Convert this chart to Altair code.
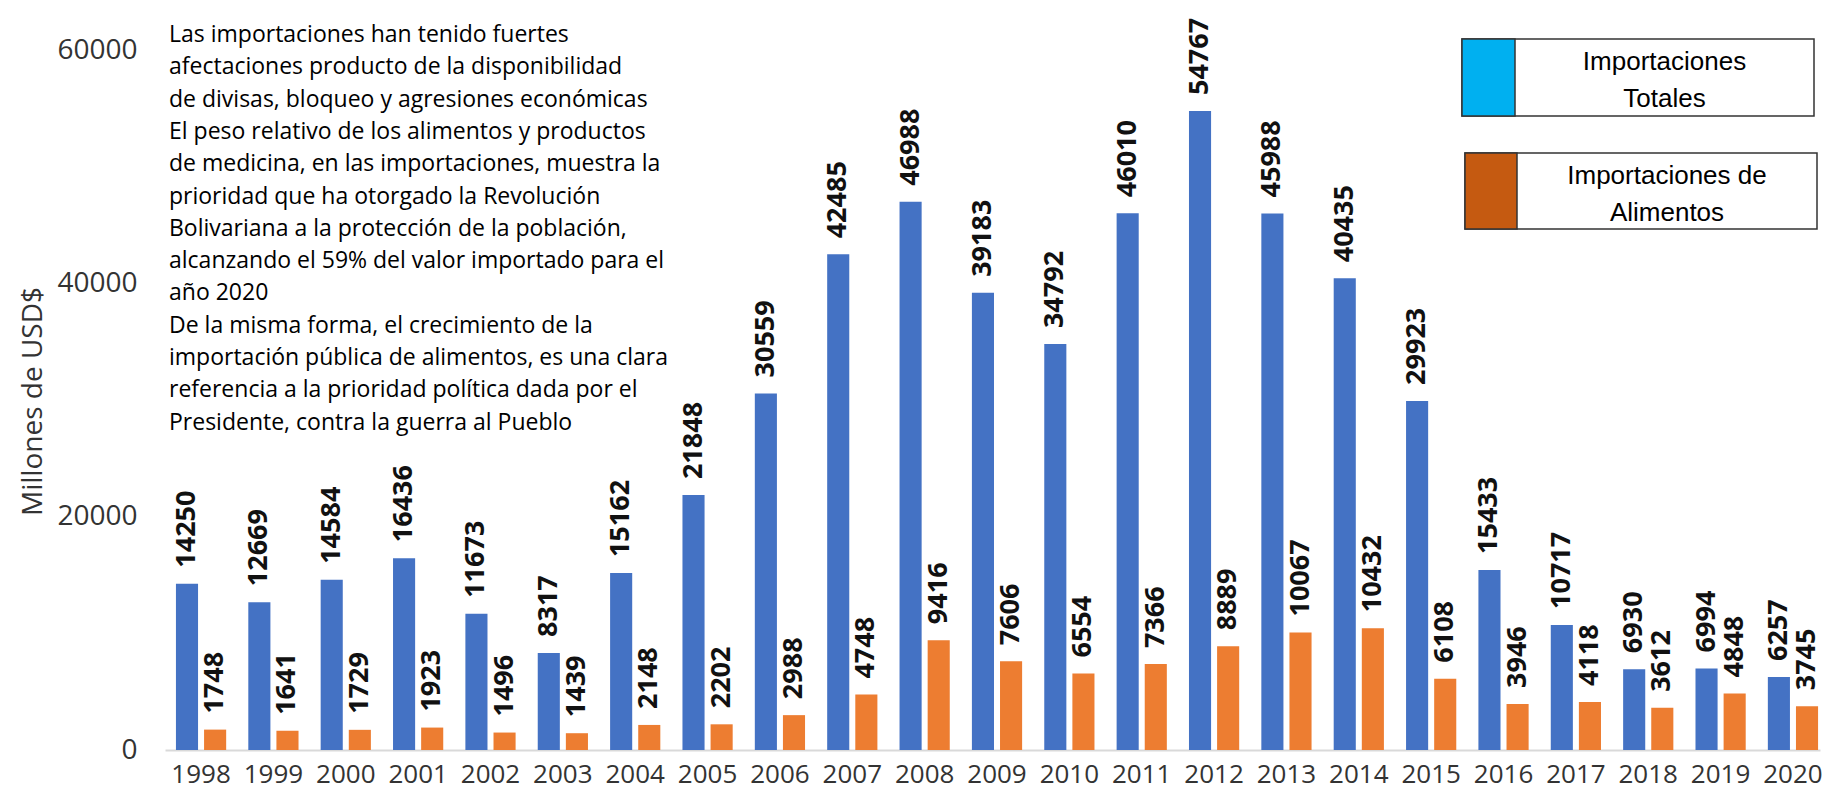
import altair as alt
import pandas as pd

years = ["1998", "1999", "2000", "2001", "2002", "2003", "2004", "2005", "2006", "2007",
         "2008", "2009", "2010", "2011", "2012", "2013", "2014", "2015", "2016", "2017",
         "2018", "2019", "2020"]
totales = [14250, 12669, 14584, 16436, 11673, 8317, 15162, 21848, 30559, 42485,
           46988, 39183, 34792, 46010, 54767, 45988, 40435, 29923, 15433, 10717,
           6930, 6994, 6257]
alimentos = [1748, 1641, 1729, 1923, 1496, 1439, 2148, 2202, 2988, 4748,
             9416, 7606, 6554, 7366, 8889, 10067, 10432, 6108, 3946, 4118,
             3612, 4848, 3745]
series = ["Importaciones Totales", "Importaciones de Alimentos"]
bar_colors = ["#4472C4", "#ED7D31"]
legend_lines = [["Importaciones", "Totales"], ["Importaciones de", "Alimentos"]]
legend_colors = ["#00B0F0", "#C55A11"]
y_ticks = [0, 20000, 40000, 60000]
y_title = "Millones de USD$"
note_lines = [
    "Las importaciones han tenido fuertes",
    "afectaciones producto de la disponibilidad",
    "de divisas, bloqueo y agresiones económicas",
    "El peso relativo de los alimentos y productos",
    "de medicina, en las importaciones, muestra la",
    "prioridad que ha otorgado la Revolución",
    "Bolivariana a la protección de la población,",
    "alcanzando el 59% del valor importado para el",
    "año 2020",
    "De la misma forma, el crecimiento de la",
    "importación pública de alimentos, es una clara",
    "referencia a la prioridad política dada por el",
    "Presidente, contra la guerra al Pueblo",
]

df = pd.DataFrame({
    "year": years * 2,
    "serie": [series[0]] * len(years) + [series[1]] * len(years),
    "value": totales + alimentos,
})

W, H = 1655, 700
FONT = "Open Sans"

x_enc = alt.X("year:N", sort=years, title=None,
              scale=alt.Scale(paddingInner=0.306, paddingOuter=0.089, align=0.85),
              axis=alt.Axis(labelAngle=0, labelFontSize=26, labelFont=FONT, labelColor="#333333",
                            labelPadding=11, ticks=False, domainColor="#D9D9D9", domainWidth=2,
                            grid=False, labelOverlap=False))
xoff_enc = alt.XOffset("serie:N", sort=series, scale=alt.Scale(paddingInner=0.214))
y_enc = alt.Y("value:Q", scale=alt.Scale(domain=[0, 60000], nice=False, zero=True),
              axis=alt.Axis(values=y_ticks, format="d", title=y_title, grid=False, domain=False,
                            ticks=False, labelFontSize=28, labelFont=FONT, labelColor="#333333",
                            labelPadding=28, titleFontSize=28, titleFont=FONT,
                            titleFontWeight="normal", titleColor="#333333", titleAngle=270,
                            titleX=-132, titleY=351, titleAlign="center",
                            titleBaseline="middle"))
color_enc = alt.Color("serie:N", sort=series,
                      scale=alt.Scale(domain=series, range=bar_colors), legend=None)

base = alt.Chart(df)
bars = base.mark_bar().encode(x=x_enc, xOffset=xoff_enc, y=y_enc, color=color_enc)
labels = base.mark_text(angle=270, align="left", baseline="middle", yOffset=-16,
                        fontSize=27, font=FONT, fontWeight="bold", color="#111111").encode(
    x=x_enc, xOffset=xoff_enc, y=alt.Y("value:Q"), text=alt.Text("value:Q", format="d"))

one = pd.DataFrame({"k": [0]})
note = alt.Chart(one).mark_text(align="left", baseline="top", fontSize=23, font=FONT,
                                lineHeight=32.3, color="#000000").encode(
    x=alt.value(4), y=alt.value(-26), text=alt.value(note_lines))

legend_layers = []
legend_geo = [(1297, 1350, 1649, -11, 66), (1300, 1352, 1652, 103, 179)]
for i, (x0, xs, x1, y0, y1) in enumerate(legend_geo):
    box = alt.Chart(one).mark_rect(fill="white", stroke="#333333", strokeWidth=1.5).encode(
        x=alt.value(x0), x2=alt.value(x1), y=alt.value(y0), y2=alt.value(y1))
    sw = alt.Chart(one).mark_rect(fill=legend_colors[i], stroke="#333333", strokeWidth=1.5).encode(
        x=alt.value(x0), x2=alt.value(xs), y=alt.value(y0), y2=alt.value(y1))
    txt = alt.Chart(one).mark_text(align="center", baseline="top", fontSize=26,
                                   font="Liberation Sans", lineHeight=37.5, color="#000000").encode(
        x=alt.value((xs + x1) / 2), y=alt.value(y0 + 9.5), text=alt.value(legend_lines[i]))
    legend_layers += [box, sw, txt]

chart = alt.layer(bars, labels, note, *legend_layers).properties(
    width=W, height=H,
    autosize=alt.AutoSizeParams(type="none"),
    padding={"left": 157, "top": 42, "right": 3, "bottom": 42},
    background="white",
).configure_view(stroke=None)

chart.save("out.html", embed_options={"renderer": "svg", "actions": False})
